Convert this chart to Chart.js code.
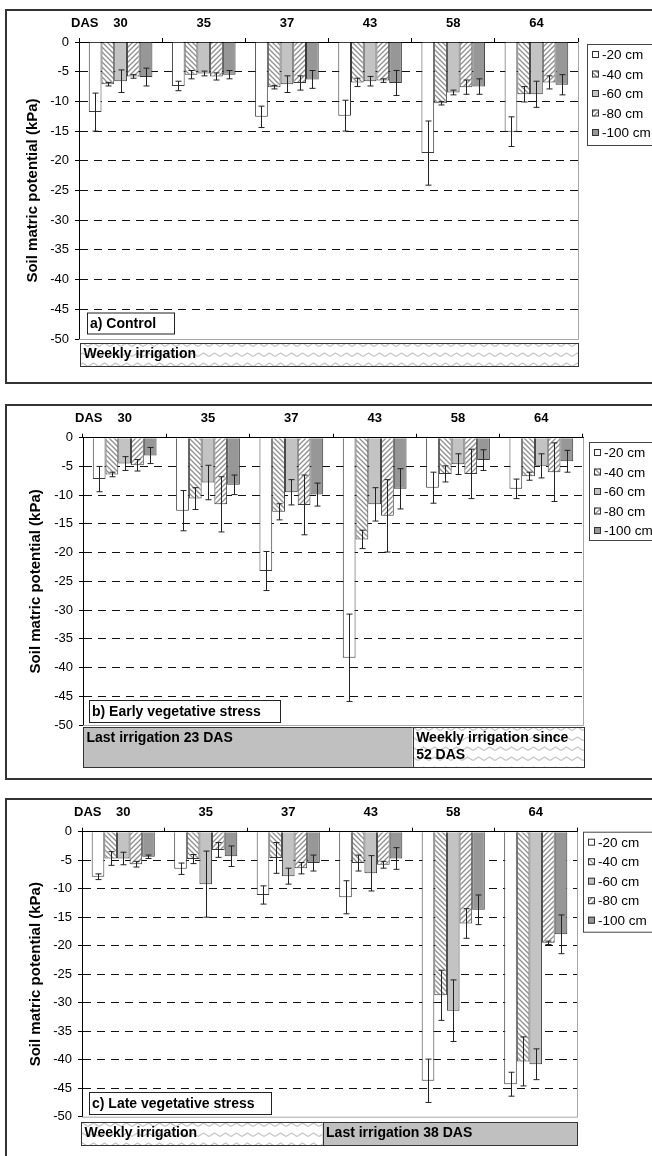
<!DOCTYPE html>
<html>
<head>
<meta charset="utf-8">
<script src="https://cdn.jsdelivr.net/npm/chart.js@4.4.0/dist/chart.umd.min.js"></script>
<style>
  body { margin: 0; width: 652px; height: 1156px; overflow: hidden; background: #fff; position: relative; }
  .frame { position: absolute; left: 5px; width: 720px; border: 2px solid #333; box-sizing: border-box; }
  canvas { position: absolute; left: 0; }
</style>
</head>
<body>
<div class="frame" style="top:9px;height:375px"></div>
<div class="frame" style="top:404px;height:376px"></div>
<div class="frame" style="top:798px;height:380px"></div>
<canvas id="chartA" width="652" height="392" style="top:0px"></canvas>
<canvas id="chartB" width="652" height="392" style="top:394px"></canvas>
<canvas id="chartC" width="652" height="366" style="top:790px"></canvas>
<script>
// sampling days (days after sowing) and sensor depths
const dasLabels = ['30', '35', '37', '43', '58', '64'];
const depthLabels = ['-20 cm', '-40 cm', '-60 cm', '-80 cm', '-100 cm'];

// soil matric potential (kPa), one row per depth, one column per DAS
const controlMean = [
  [-11.8, -7.4, -12.6, -12.4, -18.7, -15.1],
  [-7.1, -5.5, -7.6, -6.8, -10.3, -8.8],
  [-6.6, -5.3, -7.1, -6.6, -8.5, -8.8],
  [-5.8, -5.8, -6.9, -6.5, -7.6, -6.8],
  [-5.9, -5.5, -6.3, -6.9, -7.5, -7.2]
];
const controlErr = [
  [3.2, 0.8, 1.8, 2.6, 5.4, 2.5],
  [0.3, 0.7, 0.3, 0.7, 0.3, 1.3],
  [1.9, 0.4, 1.4, 0.8, 0.4, 2.2],
  [0.3, 0.6, 1.2, 0.3, 1.2, 1.1],
  [1.5, 0.7, 1.5, 2.1, 1.3, 1.7]
];
const earlyMean = [
  [-7.2, -12.7, -23.2, -38.3, -8.7, -8.9],
  [-6.4, -10.6, -12.9, -17.7, -6.3, -6.7],
  [-4.5, -7.8, -9.5, -11.6, -4.6, -4.9],
  [-4.8, -11.6, -11.7, -13.6, -6.3, -6.0],
  [-3.1, -8.2, -9.9, -8.9, -3.9, -4.1]
];
const earlyErr = [
  [2.2, 3.5, 3.4, 7.6, 2.7, 1.7],
  [0.4, 1.9, 1.4, 1.6, 1.4, 0.7],
  [1.2, 3.0, 2.2, 2.9, 1.8, 2.1],
  [1.0, 4.8, 5.2, 6.3, 4.3, 5.1],
  [1.4, 1.7, 2.0, 3.5, 1.8, 1.9]
];
const lateMean = [
  [-7.9, -6.5, -11.1, -11.5, -43.7, -44.3],
  [-4.7, -4.8, -4.6, -5.5, -28.7, -40.3],
  [-4.7, -9.2, -7.8, -7.3, -31.4, -40.8],
  [-5.7, -3.2, -6.4, -5.8, -16.1, -19.5],
  [-4.4, -4.3, -5.5, -4.7, -13.7, -18.0]
];
const lateErr = [
  [0.5, 1.0, 1.6, 2.9, 3.8, 2.1],
  [1.2, 0.8, 2.7, 1.4, 4.4, 4.3],
  [1.1, 5.8, 1.4, 3.1, 5.4, 2.7],
  [0.5, 1.3, 1.0, 0.6, 2.6, 0.3],
  [0.3, 1.8, 1.4, 1.9, 2.6, 3.4]
];

const FONT = 'Arial, "Liberation Sans", sans-serif';
Chart.defaults.font.family = FONT;
Chart.defaults.color = '#000';

function hatch(dir) {
  const s = 5;
  const c = document.createElement('canvas');
  c.width = s; c.height = s;
  const g = c.getContext('2d');
  g.fillStyle = '#fff';
  g.fillRect(0, 0, s, s);
  g.strokeStyle = '#8f8f8f';
  g.lineWidth = 1.3;
  g.beginPath();
  if (dir > 0) {
    g.moveTo(-1, s + 1); g.lineTo(s + 1, -1);
    g.moveTo(-1, 1); g.lineTo(1, -1);
    g.moveTo(s - 1, s + 1); g.lineTo(s + 1, s - 1);
  } else {
    g.moveTo(-1, -1); g.lineTo(s + 1, s + 1);
    g.moveTo(-1, s - 1); g.lineTo(1, s + 1);
    g.moveTo(s - 1, -1); g.lineTo(s + 1, 1);
  }
  g.stroke();
  return g.createPattern(c, 'repeat');
}

function wave() {
  const w = 11, h = 10;
  const c = document.createElement('canvas');
  c.width = w; c.height = h;
  const g = c.getContext('2d');
  g.fillStyle = '#fff';
  g.fillRect(0, 0, w, h);
  g.strokeStyle = '#c6c6c6';
  g.lineWidth = 1.4;
  g.beginPath();
  g.moveTo(0, 6.5);
  g.lineTo(w / 2, 3);
  g.lineTo(w, 6.5);
  g.stroke();
  return g.createPattern(c, 'repeat');
}

const fills = ['#ffffff', hatch(-1), '#c3c3c3', hatch(1), '#979797'];
const wavy = wave();
const stripFill = { wave: wavy, grey: '#c0c0c0' };

const errorBars = {
  id: 'errorBars',
  afterDatasetsDraw(chart) {
    const ctx = chart.ctx;
    const y = chart.scales.y;
    ctx.save();
    ctx.strokeStyle = '#222';
    ctx.lineWidth = 1;
    chart.data.datasets.forEach((ds, i) => {
      chart.getDatasetMeta(i).data.forEach((bar, j) => {
        const v = ds.data[j], e = ds.errors[j];
        const x = Math.round(bar.x) + 0.5;
        const y1 = y.getPixelForValue(v + e), y2 = y.getPixelForValue(v - e);
        ctx.beginPath();
        ctx.moveTo(x, y1); ctx.lineTo(x, y2);
        ctx.moveTo(x - 3, y1); ctx.lineTo(x + 3, y1);
        ctx.moveTo(x - 3, y2); ctx.lineTo(x + 3, y2);
        ctx.stroke();
      });
    });
    ctx.restore();
  }
};

function makePanel(p) {
  const decor = {
    id: 'decor',
    beforeDatasetsDraw(chart) {
      const { ctx, chartArea: a } = chart;
      ctx.save();
      ctx.strokeStyle = '#a8a8a8';
      ctx.lineWidth = 1;
      ctx.beginPath();
      ctx.moveTo(a.right + 0.5, a.top);
      ctx.lineTo(a.right + 0.5, a.bottom + 0.5);
      ctx.lineTo(a.left, a.bottom + 0.5);
      ctx.stroke();
      ctx.restore();
    },
    afterDraw(chart) {
      const { ctx, chartArea: a } = chart;
      ctx.save();
      ctx.fillStyle = '#000';
      ctx.font = 'bold 13px ' + FONT;
      ctx.textBaseline = 'middle';
      ctx.textAlign = 'left';
      ctx.fillText('DAS', a.left - 8, a.top - 19);

      // treatment tag inside the plot
      const t = p.tag;
      const tx = a.left + t.dx, ty = a.bottom + t.dy;
      ctx.fillStyle = '#fff';
      ctx.fillRect(tx, ty, t.w, t.h);
      ctx.strokeStyle = '#222';
      ctx.lineWidth = 1;
      ctx.strokeRect(tx + 0.5, ty + 0.5, t.w, t.h);
      ctx.fillStyle = '#000';
      ctx.font = 'bold 14px ' + FONT;
      ctx.fillText(t.text, tx + 3, ty + t.h / 2 + 1);

      // irrigation regime strip under the axis
      const sy = a.bottom + p.strip.dy, sh = p.strip.h;
      const x0 = a.left + p.strip.dx0, span = a.right + p.strip.dx1 - x0;
      p.strip.parts.forEach(part => {
        const sx = x0 + part.from * span, sw = (part.to - part.from) * span;
        ctx.fillStyle = stripFill[part.fill];
        ctx.fillRect(sx, sy, sw, sh);
        ctx.strokeStyle = '#333';
        ctx.strokeRect(Math.round(sx) + 0.5, Math.round(sy) + 0.5, Math.round(sw), sh);
        ctx.fillStyle = '#000';
        part.lines.forEach((line, k) => ctx.fillText(line, sx + 3.5, sy + 11.5 + k * 17));
      });

      // legend box
      const lg = p.legend;
      const lx = a.right + lg.dx, ly = a.top + lg.dy;
      ctx.fillStyle = '#fff';
      ctx.fillRect(lx, ly, 100, lg.h);
      ctx.strokeStyle = '#444';
      ctx.strokeRect(lx + 0.5, ly + 0.5, 100, lg.h);
      ctx.font = '13.5px ' + FONT;
      chart.data.datasets.forEach((ds, i) => {
        const cy = ly + 11 + i * 19.5;
        ctx.fillStyle = ds.backgroundColor;
        ctx.fillRect(lx + 5, cy - 4, 7, 7);
        ctx.strokeStyle = '#333';
        ctx.strokeRect(lx + 5.5, cy - 3.5, 6, 6);
        ctx.fillStyle = '#000';
        ctx.fillText(ds.label, lx + 15, cy + 0.5);
      });
      ctx.restore();
    }
  };

  return new Chart(document.getElementById(p.id), {
    type: 'bar',
    data: {
      labels: dasLabels,
      datasets: depthLabels.map((d, i) => ({
        label: d,
        data: p.means[i],
        errors: p.errs[i],
        backgroundColor: fills[i],
        borderColor: '#3a3a3a',
        borderWidth: 1,
        categoryPercentage: 0.765,
        barPercentage: 1
      }))
    },
    options: {
      responsive: false,
      animation: false,
      layout: { padding: p.pad },
      plugins: { legend: { display: false }, tooltip: { enabled: false } },
      scales: {
        x: {
          position: 'top',
          grid: { drawOnChartArea: false, drawTicks: true, tickLength: 4, color: '#000', offset: true },
          border: { color: '#000', width: 1 },
          ticks: { color: '#000', padding: 7, font: { size: 13, weight: 'bold' } },
          afterFit(s) { s.height = 32; }
        },
        y: {
          min: -50,
          max: 0,
          ticks: { stepSize: 5, color: '#000', padding: 6, font: { size: 13 } },
          grid: {
            color: c => (c.tick.value === 0 || c.tick.value === -50) ? 'rgba(0,0,0,0)' : '#111',
            tickColor: '#000',
            tickLength: 4,
            lineWidth: 1
          },
          border: { color: '#000', width: 1, dash: [8, 6] },
          title: {
            display: true,
            text: 'Soil matric potential (kPa)',
            color: '#000',
            font: { size: 15, weight: 'bold' },
            padding: { top: 4, bottom: 4 }
          },
          afterFit(s) { s.width = p.yWidth; }
        }
      }
    },
    plugins: [decor, errorBars]
  });
}

makePanel({
  id: 'chartA', means: controlMean, errs: controlErr,
  pad: { left: 19.5, right: 74, top: 10, bottom: 53 }, yWidth: 59.5,
  tag: { text: 'a) Control', dx: 8, dy: -26.5, w: 87, h: 21 },
  strip: { dy: 4, h: 23, dx0: 1, dx1: 0, parts: [
    { from: 0, to: 1, fill: 'wave', lines: ['Weekly irrigation'] }
  ] },
  legend: { dx: 9, dy: 2, h: 101 }
});

makePanel({
  id: 'chartB', means: earlyMean, errs: earlyErr,
  pad: { left: 22.4, right: 69, top: 11.7, bottom: 61 }, yWidth: 60.6,
  tag: { text: 'b) Early vegetative stress', dx: 6, dy: -25, w: 191, h: 22 },
  strip: { dy: 2, h: 40, dx0: 0, dx1: 1, parts: [
    { from: 0, to: 0.658, fill: 'grey', lines: ['Last irrigation 23 DAS'] },
    { from: 0.658, to: 1, fill: 'wave', lines: ['Weekly irrigation since', '52 DAS'] }
  ] },
  legend: { dx: 6, dy: 4.3, h: 98 }
});

makePanel({
  id: 'chartC', means: lateMean, errs: lateErr,
  pad: { left: 22.4, right: 75, top: 9.7, bottom: 39.3 }, yWidth: 59.6,
  tag: { text: 'c) Late vegetative stress', dx: 7, dy: -24.7, w: 182, h: 22 },
  strip: { dy: 5.3, h: 23, dx0: -1, dx1: 0, parts: [
    { from: 0, to: 0.487, fill: 'wave', lines: ['Weekly irrigation'] },
    { from: 0.487, to: 1, fill: 'grey', lines: ['Last irrigation 38 DAS'] }
  ] },
  legend: { dx: 6, dy: 0, h: 100 }
});
</script>
</body>
</html>
